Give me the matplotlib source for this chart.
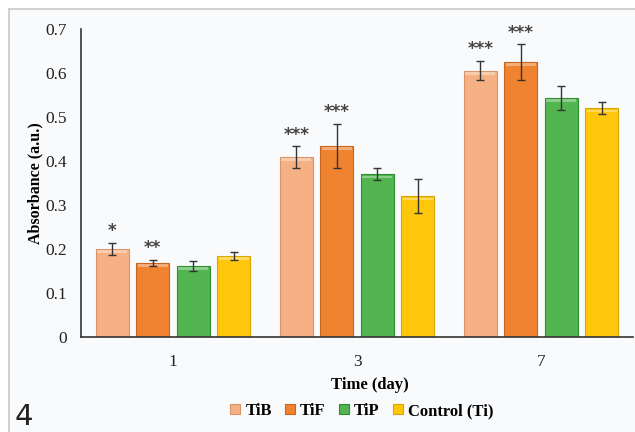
import numpy as np
import matplotlib
matplotlib.use("Agg")
import matplotlib.pyplot as plt
from matplotlib.patches import Rectangle

days = ["1", "3", "7"]
groups = ["TiB", "TiF", "TiP", "Control (Ti)"]
tib = [0.200, 0.409, 0.605]
tif = [0.168, 0.434, 0.625]
tip = [0.161, 0.370, 0.543]
ctrl = [0.184, 0.320, 0.520]
tib_err = [0.014, 0.024, 0.022]
tif_err = [0.007, 0.050, 0.040]
tip_err = [0.012, 0.013, 0.027]
ctrl_err = [0.010, 0.038, 0.013]
tib_sig = ["*", "***", "***"]
tif_sig = ["**", "***", "***"]

colors = ["#F5B183", "#F08330", "#52B550", "#FFC70C"]
edges = ["#D9946A", "#C9661E", "#2E8C35", "#D9A500"]
BG = "#F9FAFC"

plt.rcParams["font.family"] = ["Liberation Serif", "DejaVu Serif"]

fig = plt.figure(figsize=(6.35, 4.32), dpi=100, facecolor="white")
# light frame like the source figure panel
fig.patches.append(Rectangle((9 / 635, -0.1), 1.1, 1 - 9 / 432 + 0.1,
                             transform=fig.transFigure, facecolor=BG,
                             edgecolor="#CFCFCF", lw=1.4, zorder=-10))

ax = fig.add_axes([81 / 635, 1 - 337 / 432, (633 - 81) / 635, (337 - 29) / 432])
ax.set_facecolor("none")

x = np.arange(len(days))
step, width = 0.22, 0.18
series = [tib, tif, tip, ctrl]
errs = [tib_err, tif_err, tip_err, ctrl_err]
for i, (vals, err) in enumerate(zip(series, errs)):
    pos = x + (i - 1.5) * step
    ax.bar(pos, vals, width, color=colors[i], edgecolor=edges[i], lw=0.8,
           label=groups[i], zorder=2)
    ax.errorbar(pos, vals, yerr=err, fmt="none", ecolor="#333333",
                elinewidth=1.0, capsize=3, capthick=1.0, zorder=3)
    # light highlight at top of each bar
    ax.bar(pos, [0.006] * len(vals), width * 0.9,
           bottom=np.array(vals) - 0.009, color="white", alpha=0.35,
           lw=0, zorder=2.5)

for i, (vals, err, sig) in enumerate([(tib, tib_err, tib_sig), (tif, tif_err, tif_sig)]):
    pos = x + (i - 1.5) * step
    for p, v, e, s in zip(pos, vals, err, sig):
        ax.text(p, v + e + 0.006, s, ha="center", va="bottom",
                fontsize=12, fontweight="bold", fontfamily="DejaVu Sans",
                color="#444444")

ax.set_xlim(-0.5, 2.5)
ax.set_ylim(0, 0.7)
ax.set_yticks(np.arange(0, 0.71, 0.1))
ax.set_yticklabels(["0", "0.1", "0.2", "0.3", "0.4", "0.5", "0.6", "0.7"])
ax.set_xticks(x)
ax.set_xticklabels(days)
ax.tick_params(axis="y", length=0, pad=10, labelsize=12.5, labelcolor="#222222")
ax.tick_params(axis="x", length=0, pad=12, labelsize=12.5, labelcolor="#222222")
for side in ["top", "right"]:
    ax.spines[side].set_visible(False)
for side in ["left", "bottom"]:
    ax.spines[side].set_color("#333333")
    ax.spines[side].set_linewidth(1.2)

fig.text(35 / 635, 1 - 183 / 432, "Absorbance (a.u.)", rotation=90,
         ha="center", va="center", fontsize=11.5, fontweight="bold")
fig.text(370 / 635, 1 - 385 / 432, "Time (day)", ha="center", va="center",
         fontsize=12, fontweight="bold")

leg = fig.legend(loc="center", bbox_to_anchor=(362 / 635, 1 - 411 / 432),
                 ncol=4, frameon=False, handlelength=0.6, handleheight=0.6,
                 handletextpad=0.3, columnspacing=0.8,
                 prop={"weight": "bold", "size": 12})

fig.text(15 / 635, 1 - 417 / 432, "4", ha="left", va="center",
         fontsize=21, family="DejaVu Sans", color="#222222")

fig.savefig("out.png", dpi=100, facecolor="white")
